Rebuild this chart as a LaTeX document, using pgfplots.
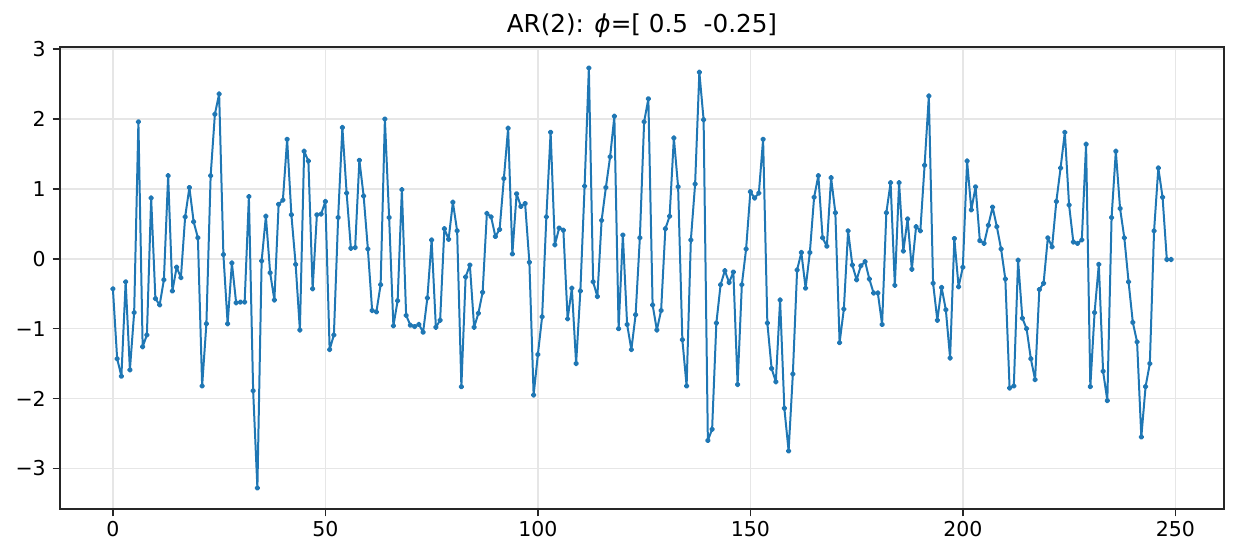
\documentclass[border=0pt]{standalone}
\usepackage{pgfplots}
\pgfplotsset{compat=1.18}
\usepackage{fontspec}
\setmainfont{DejaVu Sans}
\definecolor{mplblue}{HTML}{1F77B4}
\definecolor{gridc}{HTML}{E6E6E6}
\definecolor{spine}{HTML}{262626}
\begin{document}
\begin{tikzpicture}
\useasboundingbox (-34.56pt,-29.38pt) rectangle (678.0pt,293.2pt);
\begin{axis}[
  at={(0,0)}, anchor=south west,
  scale only axis, width=670.5pt, height=266.1pt,
  xmin=-12.45, xmax=261.45, ymin=-3.581, ymax=3.031,
  xtick={0,50,100,150,200,250}, xticklabels={0,50,100,150,200,250},
  ytick={-3,-2,-1,0,1,2,3}, yticklabels={−3,−2,−1,0,1,2,3},
  xtick pos=left, ytick pos=left,
  tick align=outside, major tick length=4.2pt,
  tick style={spine, line width=0.9pt},
  axis line style={spine, line width=0.9pt},
  grid=major, grid style={gridc, line width=0.9pt},
  tick label style={font=\fontsize{11.8}{14}\selectfont},
  xticklabel style={yshift=0.5pt},
  yticklabel style={xshift=-0.5pt},
  title={AR(2): {\itshape ϕ}=[ 0.5\ \ -0.25]},
  title style={font=\fontsize{14.2}{17}\selectfont, yshift=-4pt},
]
\addplot[mplblue, line width=1.15pt, line join=round, line cap=round, mark=*, mark size=1.05pt, mark options={solid, fill=mplblue}] coordinates {
(0,-0.43) (1,-1.43) (2,-1.68) (3,-0.33) (4,-1.59) (5,-0.77) (6,1.96) (7,-1.26) (8,-1.09) (9,0.87)
(10,-0.57) (11,-0.66) (12,-0.30) (13,1.19) (14,-0.46) (15,-0.12) (16,-0.27) (17,0.60) (18,1.02) (19,0.53)
(20,0.30) (21,-1.82) (22,-0.93) (23,1.19) (24,2.07) (25,2.36) (26,0.06) (27,-0.93) (28,-0.06) (29,-0.63)
(30,-0.62) (31,-0.62) (32,0.89) (33,-1.89) (34,-3.28) (35,-0.03) (36,0.61) (37,-0.20) (38,-0.59) (39,0.78)
(40,0.84) (41,1.71) (42,0.63) (43,-0.08) (44,-1.02) (45,1.54) (46,1.40) (47,-0.43) (48,0.63) (49,0.64)
(50,0.82) (51,-1.30) (52,-1.09) (53,0.59) (54,1.88) (55,0.94) (56,0.15) (57,0.16) (58,1.41) (59,0.90)
(60,0.14) (61,-0.74) (62,-0.76) (63,-0.37) (64,2.00) (65,0.59) (66,-0.96) (67,-0.60) (68,0.99) (69,-0.81)
(70,-0.95) (71,-0.97) (72,-0.94) (73,-1.05) (74,-0.56) (75,0.27) (76,-0.98) (77,-0.88) (78,0.43) (79,0.28)
(80,0.81) (81,0.40) (82,-1.83) (83,-0.26) (84,-0.09) (85,-0.98) (86,-0.78) (87,-0.48) (88,0.65) (89,0.60)
(90,0.32) (91,0.42) (92,1.15) (93,1.87) (94,0.07) (95,0.93) (96,0.75) (97,0.79) (98,-0.05) (99,-1.95)
(100,-1.37) (101,-0.83) (102,0.60) (103,1.81) (104,0.20) (105,0.44) (106,0.41) (107,-0.86) (108,-0.42) (109,-1.50)
(110,-0.46) (111,1.04) (112,2.73) (113,-0.33) (114,-0.54) (115,0.55) (116,1.02) (117,1.46) (118,2.04) (119,-1.00)
(120,0.34) (121,-0.94) (122,-1.30) (123,-0.80) (124,0.30) (125,1.96) (126,2.29) (127,-0.66) (128,-1.02) (129,-0.74)
(130,0.43) (131,0.61) (132,1.73) (133,1.03) (134,-1.16) (135,-1.82) (136,0.27) (137,1.07) (138,2.67) (139,1.99)
(140,-2.60) (141,-2.44) (142,-0.92) (143,-0.37) (144,-0.17) (145,-0.34) (146,-0.19) (147,-1.80) (148,-0.37) (149,0.14)
(150,0.96) (151,0.87) (152,0.94) (153,1.71) (154,-0.92) (155,-1.57) (156,-1.76) (157,-0.59) (158,-2.14) (159,-2.75)
(160,-1.65) (161,-0.16) (162,0.09) (163,-0.42) (164,0.09) (165,0.88) (166,1.19) (167,0.30) (168,0.18) (169,1.16)
(170,0.66) (171,-1.20) (172,-0.72) (173,0.40) (174,-0.09) (175,-0.30) (176,-0.10) (177,-0.04) (178,-0.29) (179,-0.49)
(180,-0.49) (181,-0.94) (182,0.66) (183,1.09) (184,-0.38) (185,1.09) (186,0.11) (187,0.57) (188,-0.15) (189,0.46)
(190,0.40) (191,1.34) (192,2.33) (193,-0.35) (194,-0.88) (195,-0.41) (196,-0.73) (197,-1.42) (198,0.29) (199,-0.40)
(200,-0.12) (201,1.40) (202,0.70) (203,1.03) (204,0.26) (205,0.22) (206,0.48) (207,0.74) (208,0.46) (209,0.14)
(210,-0.29) (211,-1.85) (212,-1.82) (213,-0.02) (214,-0.85) (215,-1.00) (216,-1.43) (217,-1.73) (218,-0.44) (219,-0.35)
(220,0.30) (221,0.17) (222,0.82) (223,1.30) (224,1.81) (225,0.77) (226,0.24) (227,0.22) (228,0.27) (229,1.64)
(230,-1.83) (231,-0.77) (232,-0.08) (233,-1.61) (234,-2.03) (235,0.59) (236,1.54) (237,0.72) (238,0.30) (239,-0.33)
(240,-0.91) (241,-1.19) (242,-2.55) (243,-1.83) (244,-1.50) (245,0.40) (246,1.30) (247,0.88) (248,-0.01) (249,-0.01)
};
\end{axis}
\end{tikzpicture}
\end{document}
